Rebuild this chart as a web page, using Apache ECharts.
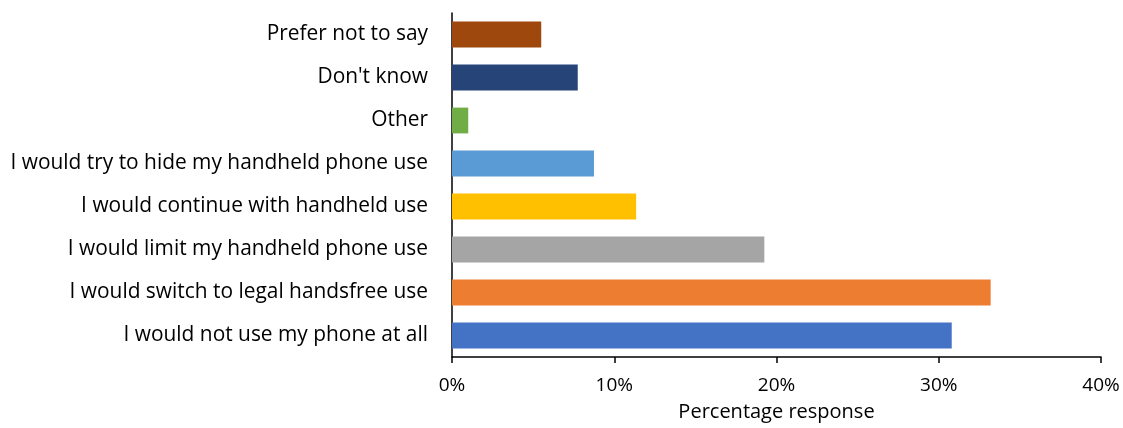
<!DOCTYPE html>
<html>
<head>
<meta charset="utf-8">
<script src="https://cdn.jsdelivr.net/npm/echarts@6/dist/echarts.min.js"></script>
<style>
  html, body { margin: 0; padding: 0; background: #fff; }
  #chart { width: 1123px; height: 428px; }
</style>
</head>
<body>
<div id="chart"></div>
<script>
// bottom to top, as in the picture
const categories = [
  'I would not use my phone at all',
  'I would switch to legal handsfree use',
  'I would limit my handheld phone use',
  'I would continue with handheld use',
  'I would try to hide my handheld phone use',
  'Other',
  "Don't know",
  'Prefer not to say'
];
const values = [30.8, 33.2, 19.25, 11.35, 8.75, 1.0, 7.75, 5.5];
const barColors = ['#4472C4', '#ED7D31', '#A5A5A5', '#FFC000', '#5B9BD5', '#70AD47', '#264478', '#9E480E'];

const font = '"Open Sans", "Noto Sans", sans-serif';

const myChart = echarts.init(document.getElementById('chart'), null, { renderer: 'canvas' });

myChart.setOption({
  backgroundColor: '#fff',
  animation: false,
  grid: { left: 452, right: 22, top: 13, bottom: 71, containLabel: false },
  xAxis: {
    type: 'value',
    min: 0,
    max: 40,
    interval: 10,
    name: 'Percentage response',
    nameLocation: 'middle',
    nameGap: 45,
    nameTextStyle: { color: '#000', fontSize: 20, fontFamily: font },
    axisLine: { show: true, lineStyle: { color: '#000', width: 1.5 } },
    axisTick: { show: true, length: 6, lineStyle: { color: '#000', width: 1.5 } },
    axisLabel: {
      color: '#000', fontSize: 19, fontFamily: font, margin: 19,
      formatter: function (v) { return v + '%'; }
    },
    splitLine: { show: false }
  },
  yAxis: {
    type: 'category',
    data: categories,
    axisLine: { show: true, lineStyle: { color: '#000', width: 1.5 } },
    axisTick: { show: false },
    axisLabel: { color: '#000', fontSize: 20.9, fontFamily: font, margin: 24 }
  },
  series: [{
    type: 'bar',
    barWidth: '60%',
    data: values.map(function (v, i) {
      return { value: v, itemStyle: { color: barColors[i] } };
    })
  }]
});
</script>
</body>
</html>
